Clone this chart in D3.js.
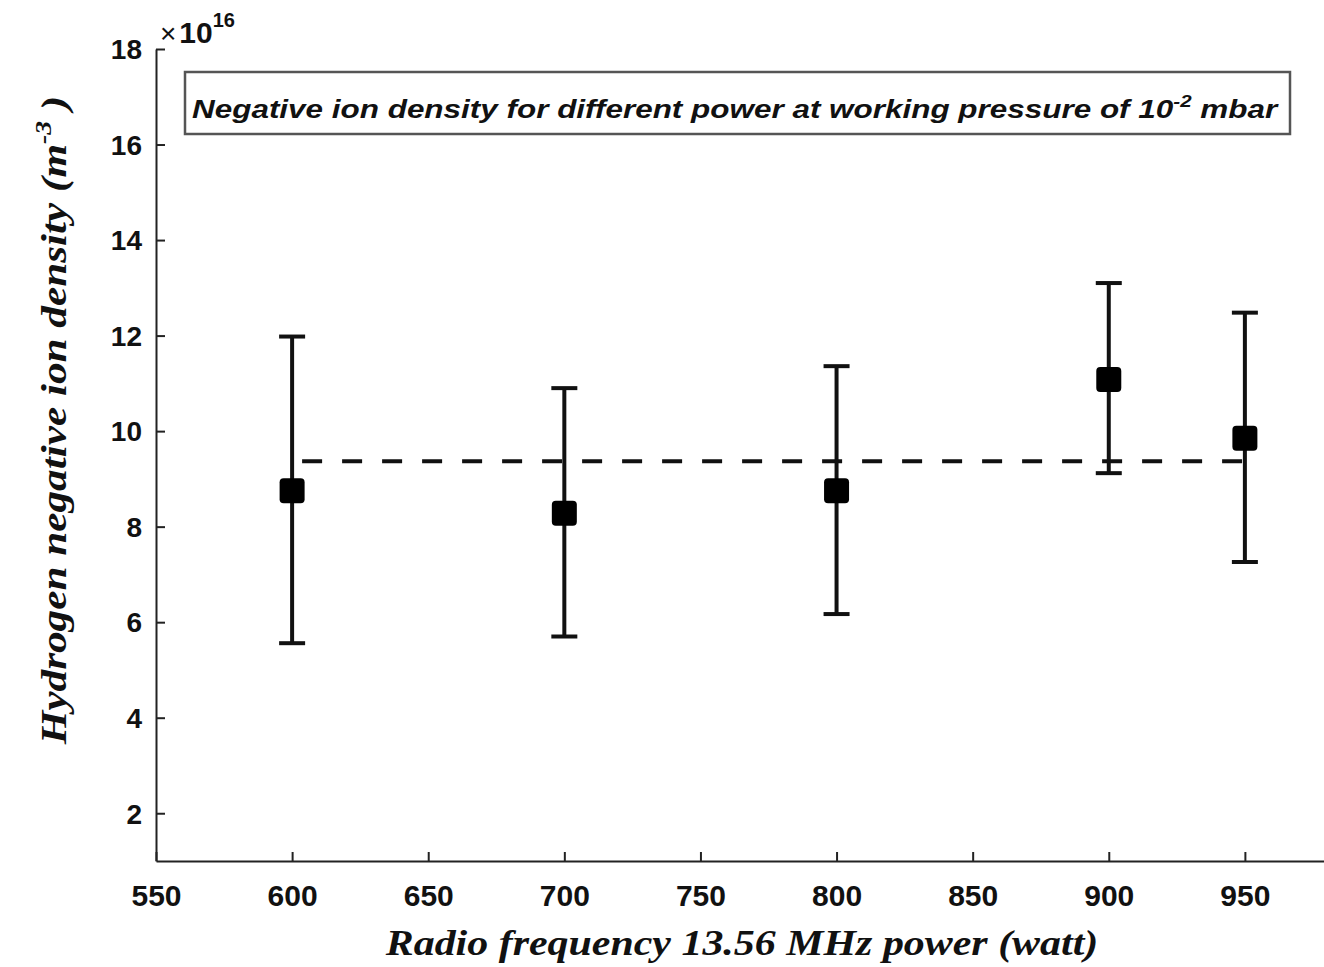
<!DOCTYPE html>
<html><head><meta charset="utf-8">
<script src="https://cdn.jsdelivr.net/npm/d3@7"></script>
<style>body{margin:0;background:#fff}svg{display:block}</style>
</head><body>
<svg id="c" width="1324" height="967"></svg>
<script>
const power = [600, 700, 800, 900, 950];
const density = [8.75, 8.28, 8.75, 11.08, 9.85];
const upper = [11.98, 10.9, 11.36, 13.1, 12.48];
const lower = [5.56, 5.7, 6.17, 9.12, 7.26];
const meanLine = [9.37, 9.37];
const meanX = [600, 950];
const xTicks = [550, 600, 650, 700, 750, 800, 850, 900, 950];
const yTicks = [2, 4, 6, 8, 10, 12, 14, 16, 18];

const svg = d3.select("#c");
const x = d3.scaleLinear().domain([550, 1000]).range([156, 1381]);
const y = d3.scaleLinear().domain([1, 18]).range([861, 49]);

function fitWidth(sel, target) {
  const w = sel.node().getBBox().width;
  return w > 0 ? target / w : 1;
}

// axes
const xa = svg.append("g").attr("transform", "translate(0,861)")
  .call(d3.axisBottom(x).tickValues(xTicks).tickSizeInner(-9).tickSizeOuter(0).tickPadding(20));
const ya = svg.append("g").attr("transform", "translate(156,0)")
  .call(d3.axisLeft(y).tickValues(yTicks).tickSizeInner(-9).tickSizeOuter(0).tickPadding(13));
[xa, ya].forEach(a => {
  a.selectAll("path.domain").attr("stroke", "#222").attr("stroke-width", 2);
  a.selectAll(".tick line").attr("stroke", "#222").attr("stroke-width", 2);
  a.selectAll("text").attr("fill", "#111").style("font-family", "Liberation Sans, Arial, sans-serif")
    .style("font-weight", "bold");
});
xa.selectAll("text").style("font-size", "30px").attr("y", 24).attr("dy", "0.71em");
ya.selectAll("text").style("font-size", "28px").attr("x", -14).attr("dy", "0.35em");

// exponent
const ex = svg.append("text").attr("x", 160).attr("y", 43)
  .style("font-family", "Liberation Sans, Arial, sans-serif").attr("fill", "#111");
ex.append("tspan").text("×").style("font-size", "28px");
ex.append("tspan").text("10").attr("dx", 3).style("font-size", "30px").style("font-weight", "bold");
ex.append("tspan").text("16").attr("dy", -16).style("font-size", "20px").style("font-weight", "bold");

// mean dashed line
svg.append("line")
  .attr("x1", x(meanX[0])).attr("x2", x(meanX[1]))
  .attr("y1", y(meanLine[0])).attr("y2", y(meanLine[1]))
  .attr("stroke", "#111").attr("stroke-width", 4).attr("stroke-dasharray", "20,20")
  .attr("stroke-dashoffset", -10);

// error bars
const data = power.map((p, i) => ({p, v: density[i], hi: upper[i], lo: lower[i]}));
const eb = svg.append("g").attr("stroke", "#111").attr("stroke-width", 4);
data.forEach(d => {
  eb.append("line").attr("x1", x(d.p)).attr("x2", x(d.p)).attr("y1", y(d.hi)).attr("y2", y(d.lo));
  eb.append("line").attr("x1", x(d.p) - 13).attr("x2", x(d.p) + 13).attr("y1", y(d.hi)).attr("y2", y(d.hi));
  eb.append("line").attr("x1", x(d.p) - 13).attr("x2", x(d.p) + 13).attr("y1", y(d.lo)).attr("y2", y(d.lo));
});
svg.append("g").selectAll("rect").data(data).join("rect")
  .attr("x", d => x(d.p) - 12.5).attr("y", d => y(d.v) - 12.5)
  .attr("width", 25).attr("height", 25).attr("rx", 4).attr("fill", "#000");

// title box
svg.append("rect").attr("x", 185).attr("y", 72).attr("width", 1105).attr("height", 62)
  .attr("fill", "#fff").attr("stroke", "#555").attr("stroke-width", 2.5);
const tg = svg.append("g");
const t = tg.append("text")
  .style("font-family", "Liberation Sans, Arial, sans-serif").style("font-weight", "bold")
  .style("font-style", "italic").style("font-size", "26px").attr("fill", "#111");
t.append("tspan").text("Negative ion density for different power at working pressure of 10");
t.append("tspan").text("-2").attr("dy", -11).style("font-size", "17px");
t.append("tspan").text(" mbar").attr("dy", 11);
tg.attr("transform", `translate(192,118) scale(${fitWidth(t, 1088)},1)`);

// x label
const xg = svg.append("g");
const xl = xg.append("text").attr("text-anchor", "middle")
  .style("font-family", "Liberation Serif, Times New Roman, serif").style("font-weight", "bold")
  .style("font-style", "italic").style("font-size", "36px").attr("fill", "#111")
  .text("Radio frequency 13.56 MHz power (watt)");
xg.attr("transform", `translate(742,955) scale(${fitWidth(xl, 714)},1)`);

// y label
const yg = svg.append("g");
const yl = yg.append("text").attr("text-anchor", "middle")
  .style("font-family", "Liberation Serif, Times New Roman, serif").style("font-weight", "bold")
  .style("font-style", "italic").style("font-size", "36px").attr("fill", "#111");
yl.append("tspan").text("Hydrogen negative ion density (m");
yl.append("tspan").text("-3").attr("dy", -15).style("font-size", "23px");
yl.append("tspan").text(" )").attr("dy", 15);
yg.attr("transform", `translate(66,420) rotate(-90) scale(${fitWidth(yl, 650)},1)`);
</script>
</body></html>
